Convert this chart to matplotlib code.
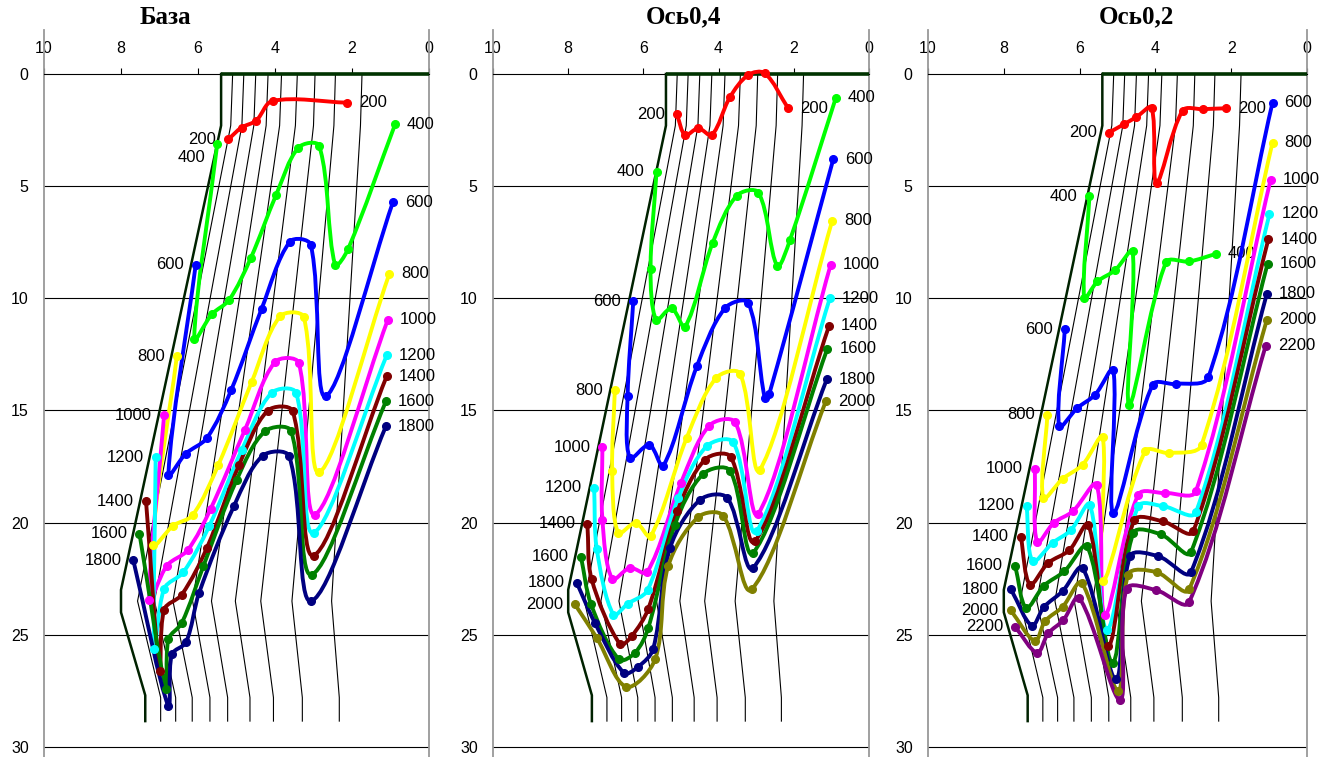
import numpy as np
import matplotlib
matplotlib.use('Agg')
import matplotlib.pyplot as plt
from matplotlib.path import Path
from matplotlib.patches import PathPatch

plt.rcParams['font.family'] = ['Liberation Sans', 'DejaVu Sans']

# ---- профиль (контур) и сетка - одинаковые для всех трёх схем ----
outline_x = [5.40, 5.40, 8.00, 8.00, 7.37, 7.37]
outline_y = [0.00, 2.30, 23.0, 24.0, 27.7, 28.85]
crest_x = [5.40, 0.0]

mesh_y = [0.0, 2.3, 23.5, 27.8, 28.85]
mesh_x = [
    [5.10, 5.15, 7.57, 6.97, 6.97],
    [4.81, 4.86, 7.13, 6.58, 6.58],
    [4.50, 4.55, 6.65, 6.15, 6.15],
    [4.18, 4.23, 6.14, 5.69, 5.69],
    [3.83, 3.88, 5.65, 5.23, 5.23],
    [3.42, 3.47, 5.03, 4.65, 4.65],
    [2.96, 3.00, 4.37, 4.04, 4.04],
    [2.43, 2.47, 3.56, 3.29, 3.29],
    [1.74, 1.78, 2.53, 2.33, 2.33],
]

# ---- База ----
b200 = [(5.21, 2.91), (4.87, 2.39), (4.49, 2.08), (4.06, 1.20), (2.12, 1.28)]
b400 = [(5.50, 3.13), (6.10, 11.82), (5.64, 10.71), (5.19, 10.07), (4.63, 8.21), (3.97, 5.39),
        (3.39, 3.28), (2.85, 3.21), (2.44, 8.50), (2.10, 7.80), (0.88, 2.24)]
b600 = [(6.06, 8.51), (6.77, 17.86), (6.32, 16.93), (5.77, 16.23), (5.14, 14.10), (4.35, 10.48),
        (3.61, 7.47), (3.07, 7.62), (2.68, 14.37), (0.94, 5.73)]
b800 = [(6.55, 12.59), (7.16, 20.98), (6.64, 20.13), (6.14, 19.67), (5.47, 17.42), (4.61, 13.75),
        (3.87, 10.81), (3.25, 10.85), (2.85, 17.76), (1.03, 8.91)]
b1000 = [(6.88, 15.22), (7.26, 23.46), (6.81, 21.92), (6.27, 21.23), (5.67, 19.38), (4.78, 15.86),
         (4.00, 12.84), (3.38, 12.89), (2.96, 19.64), (1.07, 10.96)]
b1200 = [(7.10, 17.08), (7.13, 25.63), (6.88, 22.95), (6.38, 22.21), (5.71, 20.16), (4.86, 16.75),
         (4.09, 14.22), (3.45, 14.22), (3.00, 20.46), (1.10, 12.55)]
b1400 = [(7.35, 19.05), (6.99, 26.62), (6.88, 23.88), (6.42, 23.21), (5.77, 21.13), (4.93, 17.42),
         (4.19, 15.01), (3.54, 15.04), (3.00, 21.47), (1.10, 13.48)]
b1600 = [(7.52, 20.50), (6.83, 27.41), (6.77, 25.21), (6.42, 24.47), (5.86, 21.94), (4.99, 18.08),
         (4.26, 15.93), (3.58, 15.93), (3.05, 22.32), (1.12, 14.60)]
b1800 = [(7.68, 21.68), (6.77, 28.18), (6.68, 25.88), (6.31, 25.33), (5.97, 23.13), (5.06, 19.24),
         (4.32, 17.02), (3.63, 17.05), (3.06, 23.50), (1.12, 15.71)]

# ---- Ось0,4 ----
a4_200 = [(5.11, 1.80), (4.89, 2.72), (4.54, 2.42), (4.18, 2.72), (3.70, 1.04), (3.21, 0.04),
          (2.77, -0.03), (2.15, 1.53)]
a4_400 = [(5.65, 4.35), (5.81, 8.70), (5.66, 10.96), (5.25, 10.44), (4.89, 11.26), (4.16, 7.54),
          (3.52, 5.43), (2.94, 5.29), (2.44, 8.55), (2.10, 7.39), (0.88, 1.05)]
a4_600 = [(6.27, 10.14), (6.42, 14.37), (6.36, 17.12), (5.84, 16.53), (5.47, 17.46), (4.58, 13.04),
          (3.83, 10.44), (3.21, 10.21), (2.77, 14.45), (2.65, 14.25), (0.95, 3.80)]
a4_800 = [(6.76, 14.10), (6.83, 17.71), (6.67, 20.46), (6.20, 20.01), (5.81, 20.61), (4.85, 16.23),
          (4.07, 13.56), (3.43, 13.36), (2.90, 17.64), (0.98, 6.55)]
a4_1000 = [(7.09, 16.64), (7.09, 19.87), (6.83, 22.51), (6.36, 22.02), (5.90, 22.21), (5.00, 18.23),
           (4.25, 15.68), (3.56, 15.53), (2.94, 19.60), (1.02, 8.51)]
a4_1200 = [(7.31, 18.45), (7.24, 21.17), (6.80, 24.10), (6.42, 23.62), (5.89, 23.01), (5.07, 18.90),
           (4.32, 16.60), (3.61, 16.42), (2.99, 20.39), (1.04, 9.99)]
a4_1400 = [(7.49, 20.06), (7.38, 22.50), (6.62, 25.43), (6.31, 25.06), (5.87, 23.84), (5.10, 19.50),
           (4.36, 17.19), (3.68, 17.07), (3.03, 20.83), (1.06, 11.22)]
a4_1600 = [(7.66, 21.53), (7.39, 23.65), (6.65, 26.10), (6.22, 25.80), (5.87, 24.69), (5.16, 20.09),
           (4.41, 17.83), (3.70, 17.68), (3.08, 21.35), (1.11, 12.26)]
a4_1800 = [(7.77, 22.69), (7.29, 24.47), (6.52, 26.70), (6.14, 26.43), (5.74, 25.63), (5.29, 21.13),
           (4.49, 18.98), (3.77, 18.90), (3.08, 22.02), (1.12, 13.60)]
a4_2000 = [(7.82, 23.65), (7.24, 25.14), (6.46, 27.32), (5.69, 26.10), (5.34, 21.94), (4.54, 19.75),
           (3.88, 19.69), (3.12, 22.98), (1.15, 14.60)]

# ---- Ось0,2 ----
a2_200 = [(5.22, 2.61), (4.82, 2.23), (4.51, 1.93), (4.10, 1.50), (3.97, 4.84), (3.28, 1.63),
          (2.75, 1.57), (2.14, 1.53)]
a2_400 = [(5.74, 5.46), (5.88, 9.99), (5.53, 9.25), (5.07, 8.76), (4.60, 7.91), (4.69, 14.74),
          (3.72, 8.40), (3.11, 8.36), (2.40, 8.02)]
a2_600 = [(6.39, 11.37), (6.54, 15.71), (6.06, 14.89), (5.59, 14.30), (5.11, 13.18), (5.11, 19.57),
          (4.07, 13.85), (3.46, 13.82), (2.60, 13.51), (0.91, 1.28)]
a2_800 = [(6.85, 15.19), (6.96, 18.90), (6.45, 18.05), (5.92, 17.42), (5.39, 16.18), (5.39, 22.61),
          (4.27, 16.82), (3.63, 16.90), (2.78, 16.53), (0.91, 3.06)]
a2_1000 = [(7.18, 17.61), (7.12, 20.88), (6.68, 20.01), (6.18, 19.50), (5.55, 18.31), (5.33, 24.10),
           (4.45, 18.75), (3.75, 18.68), (2.93, 18.60), (0.96, 4.72)]
a2_1200 = [(7.40, 19.24), (7.24, 21.72), (6.71, 20.90), (6.23, 20.34), (5.73, 19.20), (5.28, 24.77),
           (4.45, 19.27), (3.79, 19.27), (2.93, 19.54), (0.99, 6.24)]
a2_1400 = [(7.55, 20.64), (7.31, 22.76), (6.83, 21.80), (6.27, 21.23), (5.77, 20.09), (5.24, 25.48),
           (4.56, 19.90), (3.81, 19.94), (3.00, 20.39), (1.02, 7.37)]
a2_1600 = [(7.70, 21.92), (7.41, 23.80), (6.94, 22.81), (6.40, 22.17), (5.80, 21.06), (5.13, 26.25),
           (4.58, 20.46), (3.85, 20.53), (3.06, 21.32), (1.04, 8.46)]
a2_1800 = [(7.81, 22.98), (7.26, 24.59), (6.94, 23.76), (6.45, 23.06), (5.92, 22.02), (5.04, 26.99),
           (4.67, 21.50), (3.92, 21.50), (3.06, 22.21), (1.06, 9.80)]
a2_2000 = [(7.82, 23.90), (7.18, 25.28), (6.91, 24.39), (6.45, 23.76), (5.94, 22.69), (4.98, 27.51),
           (4.72, 22.32), (3.97, 22.21), (3.11, 22.98), (1.06, 10.96)]
a2_2200 = [(7.70, 24.65), (7.12, 25.80), (6.83, 24.94), (6.43, 24.35), (6.01, 23.35), (4.93, 27.91),
           (4.76, 22.95), (3.98, 23.01), (3.11, 23.55), (1.09, 12.12)]

levels = [200, 400, 600, 800, 1000, 1200, 1400, 1600, 1800, 2000, 2200]
colors = {200: '#FF0000', 400: '#00FF00', 600: '#0000FF', 800: '#FFFF00', 1000: '#FF00FF',
          1200: '#00FFFF', 1400: '#800000', 1600: '#008000', 1800: '#000080', 2000: '#808000',
          2200: '#800080'}

panels = [
    ('База', [b200, b400, b600, b800, b1000, b1200, b1400, b1600, b1800]),
    ('Ось0,4', [a4_200, a4_400, a4_600, a4_800, a4_1000, a4_1200, a4_1400, a4_1600, a4_1800, a4_2000]),
    ('Ось0,2', [a2_200, a2_400, a2_600, a2_800, a2_1000, a2_1200, a2_1400, a2_1600, a2_1800, a2_2000,
                a2_2200]),
]

# положение осей в пикселях (лево, право) и центр заголовка
W, H = 1322, 757
boxes = [(44, 429, 165), (493, 869, 683), (928, 1307, 1136)]
top_px, bot_px = 30, 757


def smooth_path(pts, sx=38.0, sy=22.4):
    # сглаженная линия как в Excel (Безье через точки)
    P = np.array(pts, float)
    n = len(P)
    sc = np.array([sx, sy])
    verts = [P[0]]
    codes = [Path.MOVETO]
    for i in range(n - 1):
        p0 = P[i - 1] if i > 0 else P[i]
        p1, p2 = P[i], P[i + 1]
        p3 = P[i + 2] if i + 2 < n else P[i + 1]
        d01 = np.linalg.norm((p1 - p0) * sc)
        d12 = np.linalg.norm((p2 - p1) * sc)
        d23 = np.linalg.norm((p3 - p2) * sc)
        c1 = p1 + (p2 - p0) * (d12 / (d01 + d12)) / 3 if d01 + d12 > 0 else p1
        c2 = p2 - (p3 - p1) * (d12 / (d12 + d23)) / 3 if d12 + d23 > 0 else p2
        verts += [c1, c2, p2]
        codes += [Path.CURVE4] * 3
    return Path(verts, codes)


fig = plt.figure(figsize=(W / 100, H / 100), dpi=100)

for k, (title, curves) in enumerate(panels):
    l, r, tc = boxes[k]
    ax = fig.add_axes([l / W, 1 - bot_px / H, (r - l) / W, (bot_px - top_px) / H])
    ax.set_xlim(10, 0)
    ax.set_ylim(30.45, -1.96)

    # оси
    ax.spines['bottom'].set_visible(False)
    ax.spines['top'].set_position(('data', 0))
    ax.spines['top'].set_linewidth(0.8)
    for s in ['left', 'right']:
        ax.spines[s].set_color('#999999')
        ax.spines[s].set_linewidth(1.3)
    ax.xaxis.set_ticks_position('top')
    ax.set_xticks([10, 8, 6, 4, 2, 0])
    ax.tick_params(axis='x', direction='out', length=4, width=0.8, pad=9, labelsize=11.5)
    ax.set_yticks([0, 5, 10, 15, 20, 25, 30])
    ax.tick_params(axis='y', length=0, pad=11, labelsize=11.5)

    for yy in [5, 10, 15, 20, 25, 30]:
        ax.axhline(yy, color='k', lw=0.8, zorder=1)

    # сетка и контур
    for mx in mesh_x:
        ax.plot(mx, mesh_y, color='k', lw=0.8, zorder=2)
    ax.plot(outline_x, outline_y, color='#002200', lw=1.8, zorder=3)
    ax.plot(crest_x, [0, 0], color='#003300', lw=2.6, zorder=3, solid_capstyle='butt')

    # изолинии
    for lev, pts in zip(levels, curves):
        c = colors[lev]
        ax.add_patch(PathPatch(smooth_path(pts), fill=False, edgecolor=c, lw=2.8,
                               joinstyle='round', capstyle='round', zorder=4))
        xs = [p[0] for p in pts]
        ys = [p[1] for p in pts]
        ax.plot(xs, ys, 'o', color=c, ms=5.5, zorder=5)
        dy_left = -13 if (k == 0 and lev == 400) else 0
        ax.annotate(str(lev), (xs[0], ys[0]), xytext=(-12, dy_left), textcoords='offset pixels',
                    ha='right', va='center', fontsize=12)
        ax.annotate(str(lev), (xs[-1], ys[-1]), xytext=(12, 0), textcoords='offset pixels',
                    ha='left', va='center', fontsize=12)

    fig.text(tc / W, 1 - 17 / H, title, ha='center', va='center', fontsize=18,
             fontweight='bold', family='Liberation Serif')

fig.savefig('out.png', dpi=100)
